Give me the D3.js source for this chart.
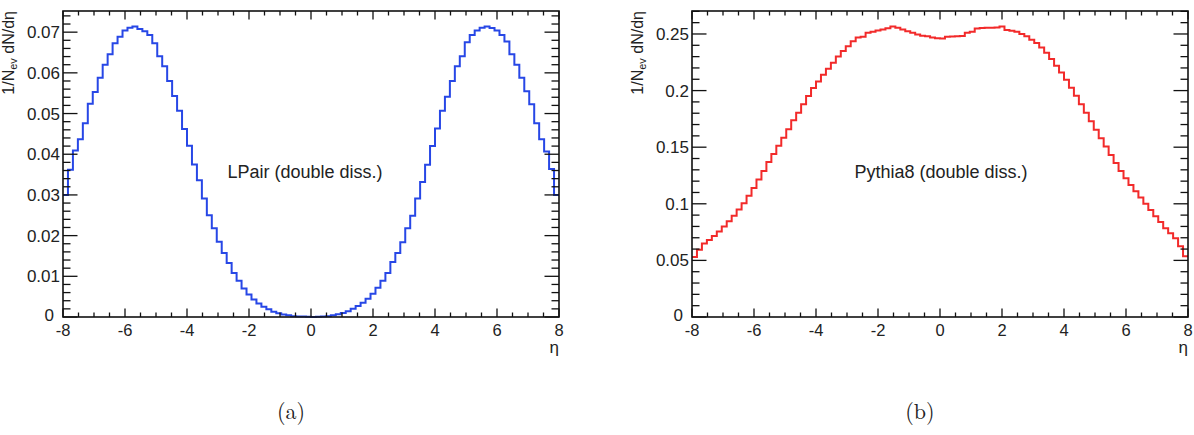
<!DOCTYPE html>
<html>
<head>
<meta charset="utf-8">
<script src="https://cdn.jsdelivr.net/npm/d3@7"></script>
<style>
  html, body { margin: 0; padding: 0; background: #fff; }
  svg { display: block; }
  text { font-family: "Liberation Sans", Arial, Helvetica, sans-serif; fill: #222; }
</style>
</head>
<body>
<svg id="chart" width="1194" height="435"></svg>
<script>
// ---------------- DATA ----------------
const etaRange = [-8, 8];
const nBins = 100;

// LPair (double diss.) : 1/N_ev dN/deta per bin (100 bins, -8..8)
const lpairValues = [
  0.0300, 0.0362, 0.0409, 0.0437, 0.0476, 0.0524, 0.0553, 0.0588, 0.0620, 0.0646,
  0.0673, 0.0689, 0.0704, 0.0711, 0.0714, 0.0708, 0.0702, 0.0693, 0.0673, 0.0641,
  0.0616, 0.0580, 0.0543, 0.0507, 0.0462, 0.0421, 0.0375, 0.0336, 0.0291, 0.0250,
  0.0218, 0.0185, 0.0157, 0.0133, 0.0108, 0.0089, 0.0070, 0.0055, 0.0043, 0.0033,
  0.0025, 0.0019, 0.0013, 0.0009, 0.0006, 0.0004, 0.0002, 0.0001, 0.0001, 0.00005,
  0.00003, 0.00005, 0.0001, 0.0002, 0.0004, 0.0007, 0.0010, 0.0014, 0.0020, 0.0027,
  0.0035, 0.0045, 0.0057, 0.0072, 0.0089, 0.0108, 0.0135, 0.0157, 0.0184, 0.0218,
  0.0249, 0.0291, 0.0332, 0.0374, 0.0420, 0.0463, 0.0507, 0.0541, 0.0580, 0.0616,
  0.0641, 0.0675, 0.0693, 0.0704, 0.0711, 0.0714, 0.0710, 0.0704, 0.0693, 0.0677,
  0.0646, 0.0620, 0.0588, 0.0555, 0.0523, 0.0476, 0.0437, 0.0407, 0.0364, 0.0300
];

// Pythia8 (double diss.)
const pythiaValues = [
  0.0530, 0.0595, 0.0650, 0.0680, 0.0715, 0.0755, 0.0800, 0.0845, 0.0895, 0.0950,
  0.1005, 0.1070, 0.1140, 0.1215, 0.1290, 0.1370, 0.1440, 0.1512, 0.1583, 0.1659,
  0.1738, 0.1805, 0.1879, 0.1952, 0.2022, 0.2081, 0.2140, 0.2192, 0.2245, 0.2300,
  0.2350, 0.2392, 0.2435, 0.2470, 0.2475, 0.2510, 0.2520, 0.2530, 0.2540, 0.2550,
  0.2567, 0.2555, 0.2540, 0.2525, 0.2510, 0.2495, 0.2485, 0.2480, 0.2470, 0.2462,
  0.2460, 0.2475, 0.2478, 0.2480, 0.2482, 0.2510, 0.2520, 0.2548, 0.2552, 0.2555,
  0.2556, 0.2558, 0.2567, 0.2535, 0.2528, 0.2520, 0.2500, 0.2480, 0.2450, 0.2420,
  0.2380, 0.2335, 0.2280, 0.2220, 0.2160, 0.2095, 0.2025, 0.1955, 0.1880, 0.1805,
  0.1730, 0.1655, 0.1580, 0.1505, 0.1430, 0.1360, 0.1290, 0.1225, 0.1165, 0.1110,
  0.1055, 0.1000, 0.0945, 0.0890, 0.0840, 0.0785, 0.0740, 0.0695, 0.0625, 0.0536
];

const xTickValues = [-8, -6, -4, -2, 0, 2, 4, 6, 8];
const xTickLabels = ["-8", "-6", "-4", "-2", "0", "2", "4", "6", "8"];
const yTicksLeft = [0, 0.01, 0.02, 0.03, 0.04, 0.05, 0.06, 0.07];
const yTickLabelsLeft = ["0", "0.01", "0.02", "0.03", "0.04", "0.05", "0.06", "0.07"];
const yTicksRight = [0, 0.05, 0.1, 0.15, 0.2, 0.25];
const yTickLabelsRight = ["0", "0.05", "0.1", "0.15", "0.2", "0.25"];
const yMaxLeft = 0.0752;
const yMaxRight = 0.2703;

// ---------------- DRAW ----------------
const svg = d3.select("#chart");

function drawPanel(opts) {
  const { left, right, top, bottom, yMax, values, color, yTicks, yLabels,
          yMinorStep, label, caption, captionX } = opts;
  const x = d3.scaleLinear().domain(etaRange).range([left, right]);
  const y = d3.scaleLinear().domain([0, yMax]).range([bottom, top]);
  const g = svg.append("g");

  const binW = (etaRange[1] - etaRange[0]) / nBins;
  const pts = values.map((v, i) => [etaRange[0] + i * binW, v]);
  pts.push([etaRange[1], values[values.length - 1]]);

  // histogram
  g.append("path")
    .attr("d", d3.line().x(d => x(d[0])).y(d => y(d[1])).curve(d3.curveStepAfter)(pts))
    .attr("fill", "none")
    .attr("stroke", color)
    .attr("stroke-width", 2);

  // ticks
  const tickG = g.append("g").attr("stroke", "#111").attr("stroke-width", 1.3);
  const xMinor = d3.range(etaRange[0], etaRange[1] + 0.001, 0.5);
  xMinor.forEach(v => {
    const isMajor = xTickValues.includes(v);
    const len = isMajor ? 8.5 : 4.5;
    tickG.append("line").attr("x1", x(v)).attr("x2", x(v)).attr("y1", bottom).attr("y2", bottom - len);
    tickG.append("line").attr("x1", x(v)).attr("x2", x(v)).attr("y1", top).attr("y2", top + len);
  });
  const yMinor = d3.range(0, yMax + 1e-9, yMinorStep);
  yMinor.forEach(v => {
    const isMajor = yTicks.some(t => Math.abs(t - v) < 1e-9);
    const len = isMajor ? 14.5 : 7.5;
    tickG.append("line").attr("x1", left).attr("x2", left + len).attr("y1", y(v)).attr("y2", y(v));
    tickG.append("line").attr("x1", right).attr("x2", right - len).attr("y1", y(v)).attr("y2", y(v));
  });

  // frame
  g.append("rect")
    .attr("x", left).attr("y", top)
    .attr("width", right - left).attr("height", bottom - top)
    .attr("fill", "none").attr("stroke", "#111").attr("stroke-width", 1.6);

  // tick labels
  xTickValues.forEach((v, i) => {
    g.append("text").attr("x", x(v)).attr("y", bottom + 19)
      .attr("text-anchor", "middle").attr("font-size", 16.5).text(xTickLabels[i]);
  });
  yTicks.forEach((v, i) => {
    const isZero = v === 0;
    g.append("text").attr("x", left - (isZero ? 9 : 3)).attr("y", y(v) + (isZero ? 4 : 6))
      .attr("text-anchor", "end").attr("font-size", 17).text(yLabels[i]);
  });

  // x title
  g.append("text").attr("x", right).attr("y", bottom + 36)
    .attr("text-anchor", "end").attr("font-size", 17).text("η");

  // y title
  const yt = g.append("text")
    .attr("transform", `translate(${left - 49},${top}) rotate(-90)`)
    .attr("text-anchor", "end").attr("font-size", 16);
  yt.append("tspan").text("1/N");
  yt.append("tspan").attr("font-size", 11).attr("dy", 3).text("ev");
  yt.append("tspan").attr("dy", -3).text(" dN/dη");

  // annotation
  g.append("text").attr("x", (left + right) / 2 + 1 + opts.labelDx).attr("y", 178)
    .attr("text-anchor", "middle").attr("font-size", 18).text(label);

  // caption
  g.append("text").attr("x", captionX).attr("y", 419)
    .attr("text-anchor", "middle").attr("font-size", 22)
    .style("font-family", "'Latin Modern Roman', 'DejaVu Serif', 'Liberation Serif', serif")
    .text(caption);
}

drawPanel({
  left: 63, right: 559, top: 11, bottom: 317, yMax: yMaxLeft,
  values: lpairValues, color: "#2747e6",
  yTicks: yTicksLeft, yLabels: yTickLabelsLeft, yMinorStep: 0.002,
  label: "LPair (double diss.)", labelDx: -7, caption: "(a)", captionX: 291
});
drawPanel({
  left: 692, right: 1188, top: 11, bottom: 317, yMax: yMaxRight,
  values: pythiaValues, color: "#f22a2a",
  yTicks: yTicksRight, yLabels: yTickLabelsRight, yMinorStep: 0.01,
  label: "Pythia8 (double diss.)", labelDx: 0, caption: "(b)", captionX: 920
});
</script>
</body>
</html>
